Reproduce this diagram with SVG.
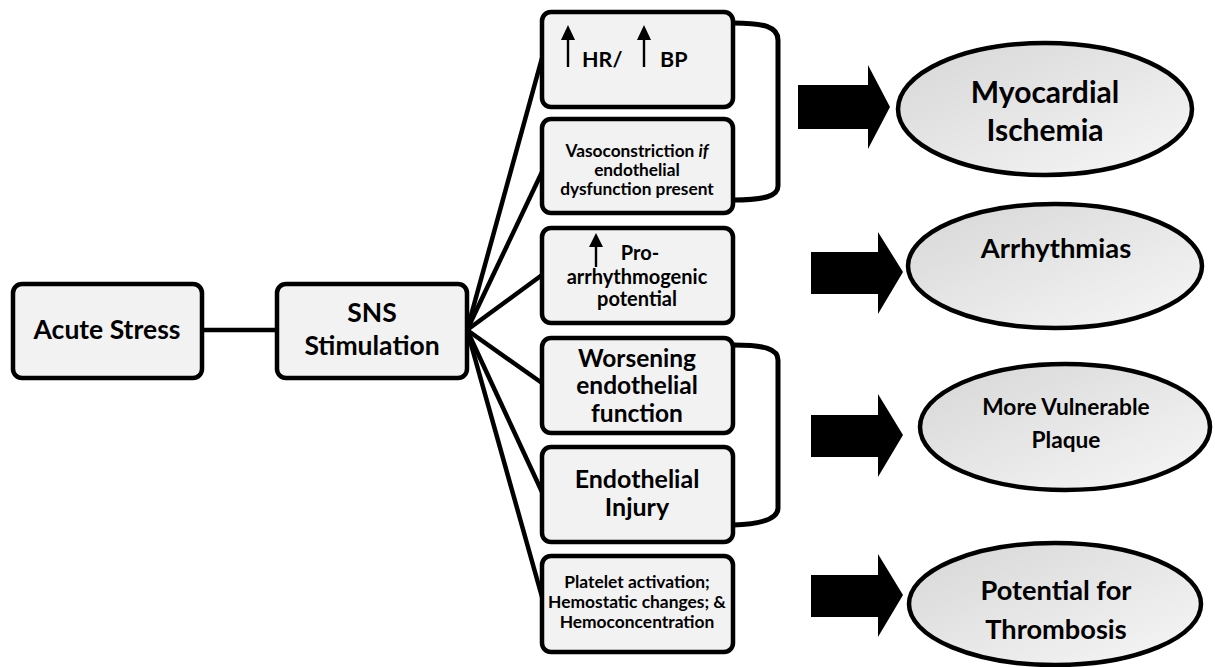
<svg xmlns="http://www.w3.org/2000/svg" width="1215" height="667" viewBox="0 0 1215 667">
<defs>
<linearGradient id="eg" x1="0" y1="0" x2="1" y2="1">
<stop offset="0" stop-color="#d6d6d6"/>
<stop offset="1" stop-color="#f7f7f7"/>
</linearGradient>
<style>
.box{fill:#f2f2f2;stroke:#000;stroke-width:4.5}
.ell{fill:url(#eg);stroke:#000;stroke-width:4.5}
.ln{stroke:#000;stroke-width:4.5;fill:none}
.br{stroke:#000;stroke-width:5;fill:none}
.blk{fill:#000}
.t{font-family:Lato,"Open Sans",sans-serif;font-weight:bold;fill:#000;text-anchor:middle}
.ua{stroke:#000;stroke-width:2.4;fill:none}
</style>
</defs>
<rect width="1215" height="667" fill="#fff"/>
<g id="connectors">
<line class="ln" x1="202" y1="330" x2="277" y2="330"/>
<line class="ln" x1="467" y1="330" x2="542" y2="58"/>
<line class="ln" x1="467" y1="330" x2="542" y2="172"/>
<line class="ln" x1="467" y1="330" x2="542" y2="275"/>
<line class="ln" x1="467" y1="330" x2="542" y2="383"/>
<line class="ln" x1="467" y1="330" x2="542" y2="492"/>
<line class="ln" x1="467" y1="330" x2="542" y2="597"/>
<path class="br" d="M733,23 C765,23 778,27 778,40 L778,186 C778,196 765,200 733,200"/>
<path class="br" d="M733,345 C765,345 778,349 778,360 L778,508 C778,518 765,524 733,525"/>
<polygon class="blk" points="798,85 868,85 868,65 890,107 868,149 868,129 798,129"/>
<polygon class="blk" points="811,252 878,252 878,232 903,272 878,314 878,294 811,294"/>
<polygon class="blk" points="811,415 878,415 878,394 903,435 878,477 878,457 811,457"/>
<polygon class="blk" points="811,575 878,575 878,554 903,595 878,637 878,617 811,617"/>
</g>
<g id="acute">
<rect class="box" x="13" y="284" width="189" height="94" rx="9"/>
<text class="t" x="107" y="339" font-size="26.5">Acute Stress</text>
</g>
<g id="sns">
<rect class="box" x="277" y="284" width="190" height="94" rx="9"/>
<text class="t" x="372" y="322" font-size="26.5">SNS</text>
<text class="t" x="372" y="355" font-size="26.5">Stimulation</text>
</g>
<g id="hrbp">
<rect class="box" x="542" y="12" width="191" height="95" rx="9"/>
<line class="ua" x1="568" y1="37" x2="568" y2="67"/>
<polygon class="blk" points="568,25 561,40 575,40"/>
<line class="ua" x1="644" y1="37" x2="644" y2="67"/>
<polygon class="blk" points="644,25 637,40 651,40"/>
<text class="t" x="582" y="67" font-size="21.5" style="text-anchor:start">HR/</text>
<text class="t" x="660" y="67" font-size="21.5" style="text-anchor:start">BP</text>
</g>
<g id="vaso">
<rect class="box" x="542" y="119" width="191" height="94" rx="9"/>
<text class="t" x="637" y="157" font-size="17.3">Vasoconstriction <tspan font-style="italic">if</tspan></text>
<text class="t" x="637" y="176" font-size="17.3">endothelial</text>
<text class="t" x="637" y="195" font-size="17.3">dysfunction present</text>
</g>
<g id="proarr">
<rect class="box" x="542" y="228" width="191" height="95" rx="9"/>
<line class="ua" x1="596" y1="244" x2="596" y2="267"/>
<polygon class="blk" points="596,233 589,247 603,247"/>
<text class="t" x="640" y="260" font-size="20">Pro-</text>
<text class="t" x="637" y="284" font-size="20">arrhythmogenic</text>
<text class="t" x="637" y="306" font-size="20">potential</text>
</g>
<g id="worsening">
<rect class="box" x="542" y="338" width="191" height="95" rx="9"/>
<text class="t" x="637" y="367" font-size="24.5">Worsening</text>
<text class="t" x="637" y="394" font-size="24.5">endothelial</text>
<text class="t" x="637" y="422" font-size="24.5">function</text>
</g>
<g id="injury">
<rect class="box" x="542" y="447" width="191" height="95" rx="9"/>
<text class="t" x="637" y="488" font-size="25">Endothelial</text>
<text class="t" x="637" y="516" font-size="25">Injury</text>
</g>
<g id="platelet">
<rect class="box" x="542" y="556" width="191" height="96" rx="9"/>
<text class="t" x="637" y="588" font-size="17.4">Platelet activation;</text>
<text class="t" x="637" y="608" font-size="17.4">Hemostatic changes; &amp;</text>
<text class="t" x="637" y="628" font-size="17.4">Hemoconcentration</text>
</g>
<g id="ischemia">
<ellipse class="ell" cx="1045" cy="109" rx="147" ry="66"/>
<text class="t" x="1045" y="103" font-size="30">Myocardial</text>
<text class="t" x="1045" y="141" font-size="30">Ischemia</text>
</g>
<g id="arrhythmias">
<ellipse class="ell" cx="1055" cy="266" rx="147" ry="62"/>
<text class="t" x="1056" y="258" font-size="27.4">Arrhythmias</text>
</g>
<g id="plaque">
<ellipse class="ell" cx="1065" cy="427" rx="145" ry="63"/>
<text class="t" x="1066" y="415" font-size="22.7">More Vulnerable</text>
<text class="t" x="1066" y="448" font-size="22.7">Plaque</text>
</g>
<g id="thrombosis">
<ellipse class="ell" cx="1055" cy="604" rx="146" ry="61"/>
<text class="t" x="1056" y="600" font-size="27.2">Potential for</text>
<text class="t" x="1056" y="639" font-size="27.2">Thrombosis</text>
</g>
</svg>
